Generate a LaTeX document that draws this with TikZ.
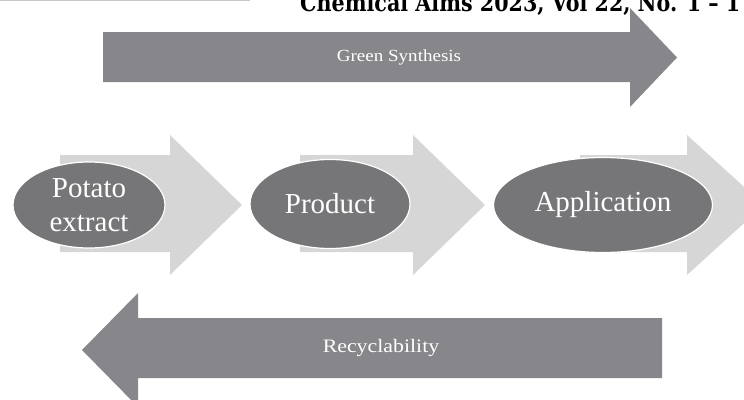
\documentclass[tikz,border=0pt]{standalone}
\usepackage{fontspec}
\setmainfont{Liberation Serif}
\newfontfamily\headfont{DejaVu Serif}
\usetikzlibrary{shapes.geometric}
\definecolor{darkarrow}{HTML}{87878B}
\definecolor{lightarrow}{HTML}{D6D6D6}
\definecolor{ovalfill}{HTML}{767678}
\definecolor{ruleline}{HTML}{C8C8C8}
\tikzset{
  bigarrow/.style={fill=darkarrow, draw=none},
  stagearrow/.style={fill=lightarrow, draw=none},
  stage/.style={ellipse, fill=ovalfill, draw=white, line width=1.2pt,
    inner sep=0pt, text=white, align=center,
    font=\fontsize{29}{34}\selectfont},
  banner/.style={text=white, inner sep=0pt},
  header/.style={anchor=base west, inner sep=0pt,
    font=\headfont\bfseries\fontsize{24}{28}\selectfont}
}
\begin{document}
\begin{tikzpicture}[x=1pt,y=-1pt]
\useasboundingbox (0,0) rectangle (744,399);
\begin{scope}
\clip (0,0) rectangle (744,399);
% running head of the page
\draw[ruleline, line width=1pt] (0,0.5) -- (250,0.5);
\node[header] (head) at (300,11.5) {\scalebox{0.86}[1]{Chemical Aims 2023, Vol 22, No. 1 – 1}};

% forward arrow: green synthesis
\fill[bigarrow] (103,32) -- (630,32) -- (630,8) -- (677,57.5) -- (630,107)
  -- (630,82) -- (103,82) -- cycle;
\node[banner] (green) at (399,57) {\fontsize{17}{20}\selectfont\scalebox{1.12}[1]{Green Synthesis}};

% light stage arrows behind the ovals
\fill[stagearrow] (60,155) -- (170,155) -- (170,135) -- (242,205) -- (170,275)
  -- (170,252) -- (60,252) -- cycle;
\fill[stagearrow] (300,155) -- (413,155) -- (413,135) -- (485,205) -- (413,275)
  -- (413,252) -- (300,252) -- cycle;
\fill[stagearrow] (580,155) -- (687,155) -- (687,135) -- (764,205) -- (687,275)
  -- (687,252) -- (580,252) -- cycle;

% process stages
\node[stage, minimum width=152, minimum height=86] (potato) at (89,205) {Potato\\extract};
\node[stage, minimum width=160, minimum height=89] (product) at (330,204) {Product};
\node[stage, minimum width=219, minimum height=95] (application) at (603,205) {Application};

% backward arrow: recyclability
\fill[bigarrow] (662,318) -- (138,318) -- (138,293) -- (82,350) -- (138,407)
  -- (138,378) -- (662,378) -- cycle;
\node[banner] (recycle) at (381,348) {\fontsize{19}{22}\selectfont\scalebox{1.15}[1]{Recyclability}};
\end{scope}
\end{tikzpicture}
\end{document}
